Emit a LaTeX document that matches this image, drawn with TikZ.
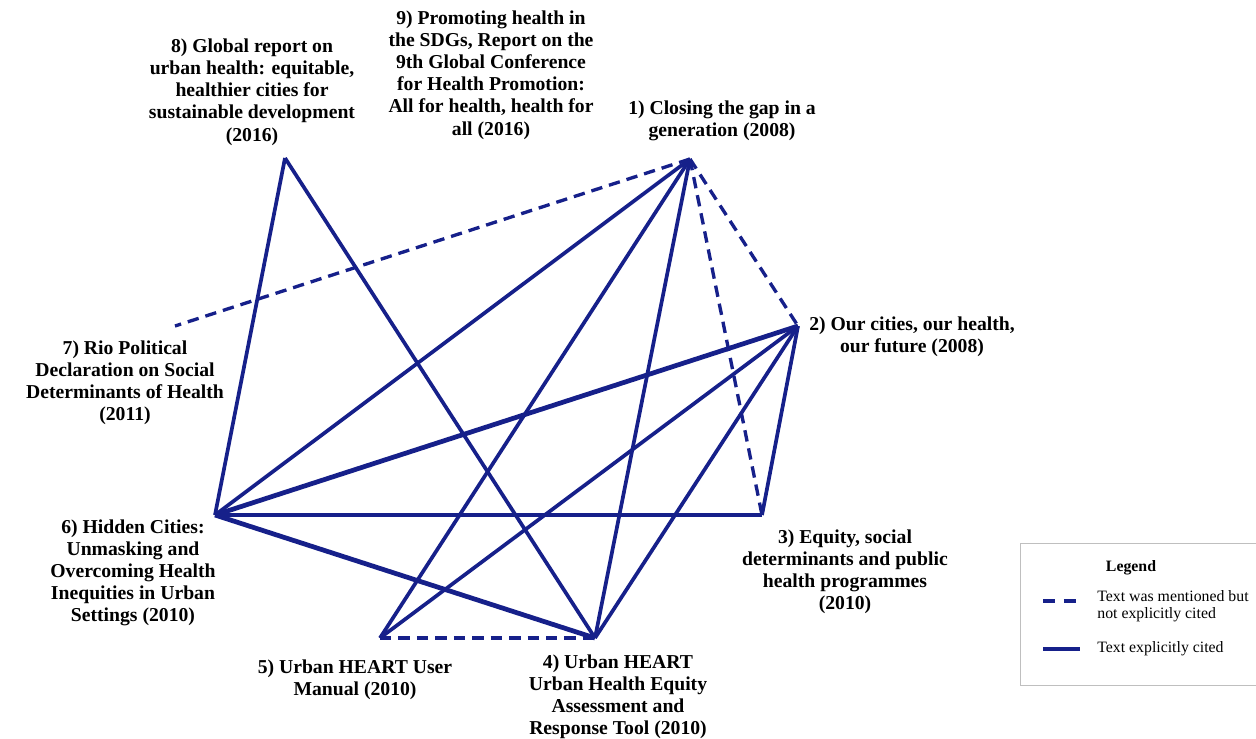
\documentclass[tikz,border=0pt]{standalone}
\usepackage{fontspec}
\setmainfont{Liberation Serif}
\definecolor{citeblue}{RGB}{22,32,138}
\tikzset{
  cited/.style={citeblue, line width=2.1pt},
  heavy/.style={citeblue, line width=2.7pt},
  mentioned/.style={citeblue, line width=1.9pt, dash pattern=on 6.5pt off 4pt},
  doc/.style={font=\bfseries\fontsize{11.2}{12.6}\selectfont, align=center, inner sep=0pt},
  legtext/.style={font=\fontsize{9}{9.6}\selectfont, align=left, anchor=west, inner sep=0pt}
}
\begin{document}
\begin{tikzpicture}[x=0.02cm, y=-0.02cm]
        \useasboundingbox (0,0) rectangle (1256,738);

        % document points
        \coordinate (d1) at (690,159);
        \coordinate (d2) at (798,326);
        \coordinate (d3) at (762,515);
        \coordinate (d4) at (595,638);
        \coordinate (d5) at (380,638);
        \coordinate (d6) at (215,515);
        \coordinate (d7) at (175,326);
        \coordinate (d8) at (285,158);

        % labels
        \node[doc] (l1) at (722,121) {1) Closing the gap in a\\generation (2008)};
        \node[doc] (l2) at (912,337) {2) Our cities, our health,\\our future (2008)};
        \node[doc] (l3) at (845,572) {3) Equity, social\\determinants and public\\health programmes\\(2010)};
        \node[doc] (l4) at (618,697) {4) Urban HEART\\Urban Health Equity\\Assessment and\\Response Tool (2010)};
        \node[doc] (l5) at (355,680) {5) Urban HEART User\\Manual (2010)};
        \node[doc] (l6) at (133,573) {6) Hidden Cities:\\Unmasking and\\Overcoming Health\\Inequities in Urban\\Settings (2010)};
        \node[doc] (l7) at (125,383) {7) Rio Political\\Declaration on Social\\Determinants of Health\\(2011)};
        \node[doc] (l8) at (252,92) {8) Global report on\\urban health: equitable,\\healthier cities for\\sustainable development\\(2016)};
        \node[doc] (l9) at (491,75) {9) Promoting health in\\the SDGs, Report on the\\9th Global Conference\\for Health Promotion:\\All for health, health for\\all (2016)};

        % mentioned only
        \draw[mentioned] (d1) -- (d7);
        \draw[mentioned] (d1) -- (d2);
        \draw[mentioned] (d1) -- (d3);
        \draw[mentioned] (d5) -- (d4);

        % explicitly cited
        \draw[cited] (d1) -- (d6);
        \draw[cited] (d1) -- (d5);
        \draw[cited] (d1) -- (d4);
        \draw[cited] (d2) -- (d5);
        \draw[cited] (d2) -- (d4);
        \draw[cited] (d2) -- (d3);
        \draw[cited] (d3) -- (d6);
        \draw[cited] (d8) -- (d6);
        \draw[cited] (d8) -- (d4);
        \draw[heavy] (d6) -- (d2);
        \draw[heavy] (d6) -- (d4);

        % legend
        \node[draw=black!25, line width=0.5pt, minimum width=4.8cm, minimum height=2.84cm] (legend) at (1140,614) {};
        \node[font=\bfseries\fontsize{9}{9.6}\selectfont, inner sep=0pt] (legtitle) at (1131,568) {Legend};
        \coordinate (m1) at (1043,601);
        \coordinate (m2) at (1080,601);
        \coordinate (c1) at (1043,649);
        \coordinate (c2) at (1080,649);
        \draw[citeblue, line width=2.2pt, dash pattern=on 6.8pt off 5pt] (m1) -- (m2);
        \draw[citeblue, line width=2.2pt] (c1) -- (c2);
        \node[legtext] (legm) at (1097,606) {Text was mentioned but\\not explicitly cited};
        \node[legtext] (legc) at (1097,649) {Text explicitly cited};

    \end{tikzpicture}
\end{document}
